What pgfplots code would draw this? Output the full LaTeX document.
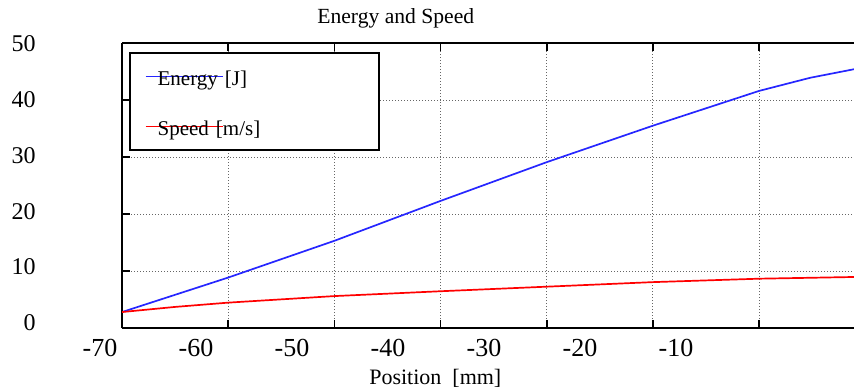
\documentclass[border=0pt]{standalone}
\usepackage{fontspec}
\setmainfont{Liberation Serif}
\usepackage{pgfplots}
\pgfplotsset{compat=1.18}
\begin{document}
\begin{tikzpicture}
\begin{axis}[
  at={(0pt,0pt)}, anchor=south west,
  scale only axis, width=366pt, height=142.5pt,
  xmin=-70, xmax=-1.07, ymin=0, ymax=50,
  axis x line=box, axis y line=left,
  x axis line style={-}, y axis line style={-},
  axis line style={line width=1pt, black},
  xtick={-70,-60,...,-10}, ytick={0,10,...,50},
  xticklabels={}, yticklabels={},
  tick align=inside, major tick length=4pt,
  tick style={black, line width=0.8pt},
  grid=major,
  grid style={black!60, line width=0.5pt, dash pattern=on 0.5pt off 1pt},
  title={Energy and Speed},
  title style={at={(axis description cs:0.374,1)}, anchor=base, yshift=4pt, font=\fontsize{10.8}{13}\selectfont},
  xlabel={Position\enspace[mm]},
  xlabel style={at={(axis description cs:0.428,0)}, anchor=base, yshift=-28pt, font=\fontsize{11}{13}\selectfont},
  legend style={at={(axis description cs:0,1)}, anchor=north west, xshift=3.5pt, yshift=-4.5pt,
    draw=black, line width=0.9pt, fill=white, inner xsep=7.5pt, inner ysep=2.7pt,
    row sep=6.9pt, column sep=0pt, font=\fontsize{10.5}{12}\selectfont,
    nodes={text height=11.8pt, text depth=2.3pt, inner ysep=2pt, inner xsep=4.5pt, text width=98.5pt}},
  legend cell align=left,
  legend image code/.code={\draw[#1,overlay] (0pt,0pt) -- (38.5pt,0pt); \path (0pt,0pt) -- (1pt,0pt);},
]
\addplot[color=blue!85!white, line width=0.85pt] coordinates {
  (-70,2.8) (-60,8.85) (-50,15.3) (-40,22.3) (-30,29.1) (-20,35.5) (-10,41.6) (-5.2,43.9) (-1.07,45.4)};
\addlegendentry{Energy [J]}
\addplot[color=red, line width=0.85pt] coordinates {
  (-70,2.8) (-65,3.7) (-60,4.45) (-50,5.6) (-40,6.45) (-30,7.25) (-20,8.05) (-10,8.65) (-1.07,8.95)};
\addlegendentry{Speed [m/s]}
\end{axis}
\begin{axis}[
  at={(-16pt,0pt)}, anchor=south west,
  scale only axis, width=382pt, height=142.5pt,
  xmin=-71.04, xmax=8.54, ymin=-1.075, ymax=50,
  axis line style={draw=none}, major tick length=0pt, tick style={draw=none},
  xtick={-70,-60,...,-10}, xticklabels={-70,-60,-50,-40,-30,-20,-10},
  ytick={0,10,...,50}, yticklabels={0,10,20,30,40,50},
  xticklabel style={anchor=base, inner sep=0pt, yshift=-14.3pt, font=\fontsize{13}{15}\selectfont},
  yticklabel style={anchor=base east, inner sep=0pt, xshift=-27pt, yshift=-4.35pt, font=\fontsize{12}{14}\selectfont},
]
\end{axis}
\pgfresetboundingbox
\path (-61pt,-31.5pt) rectangle (366pt,164pt);
\end{tikzpicture}
\end{document}
